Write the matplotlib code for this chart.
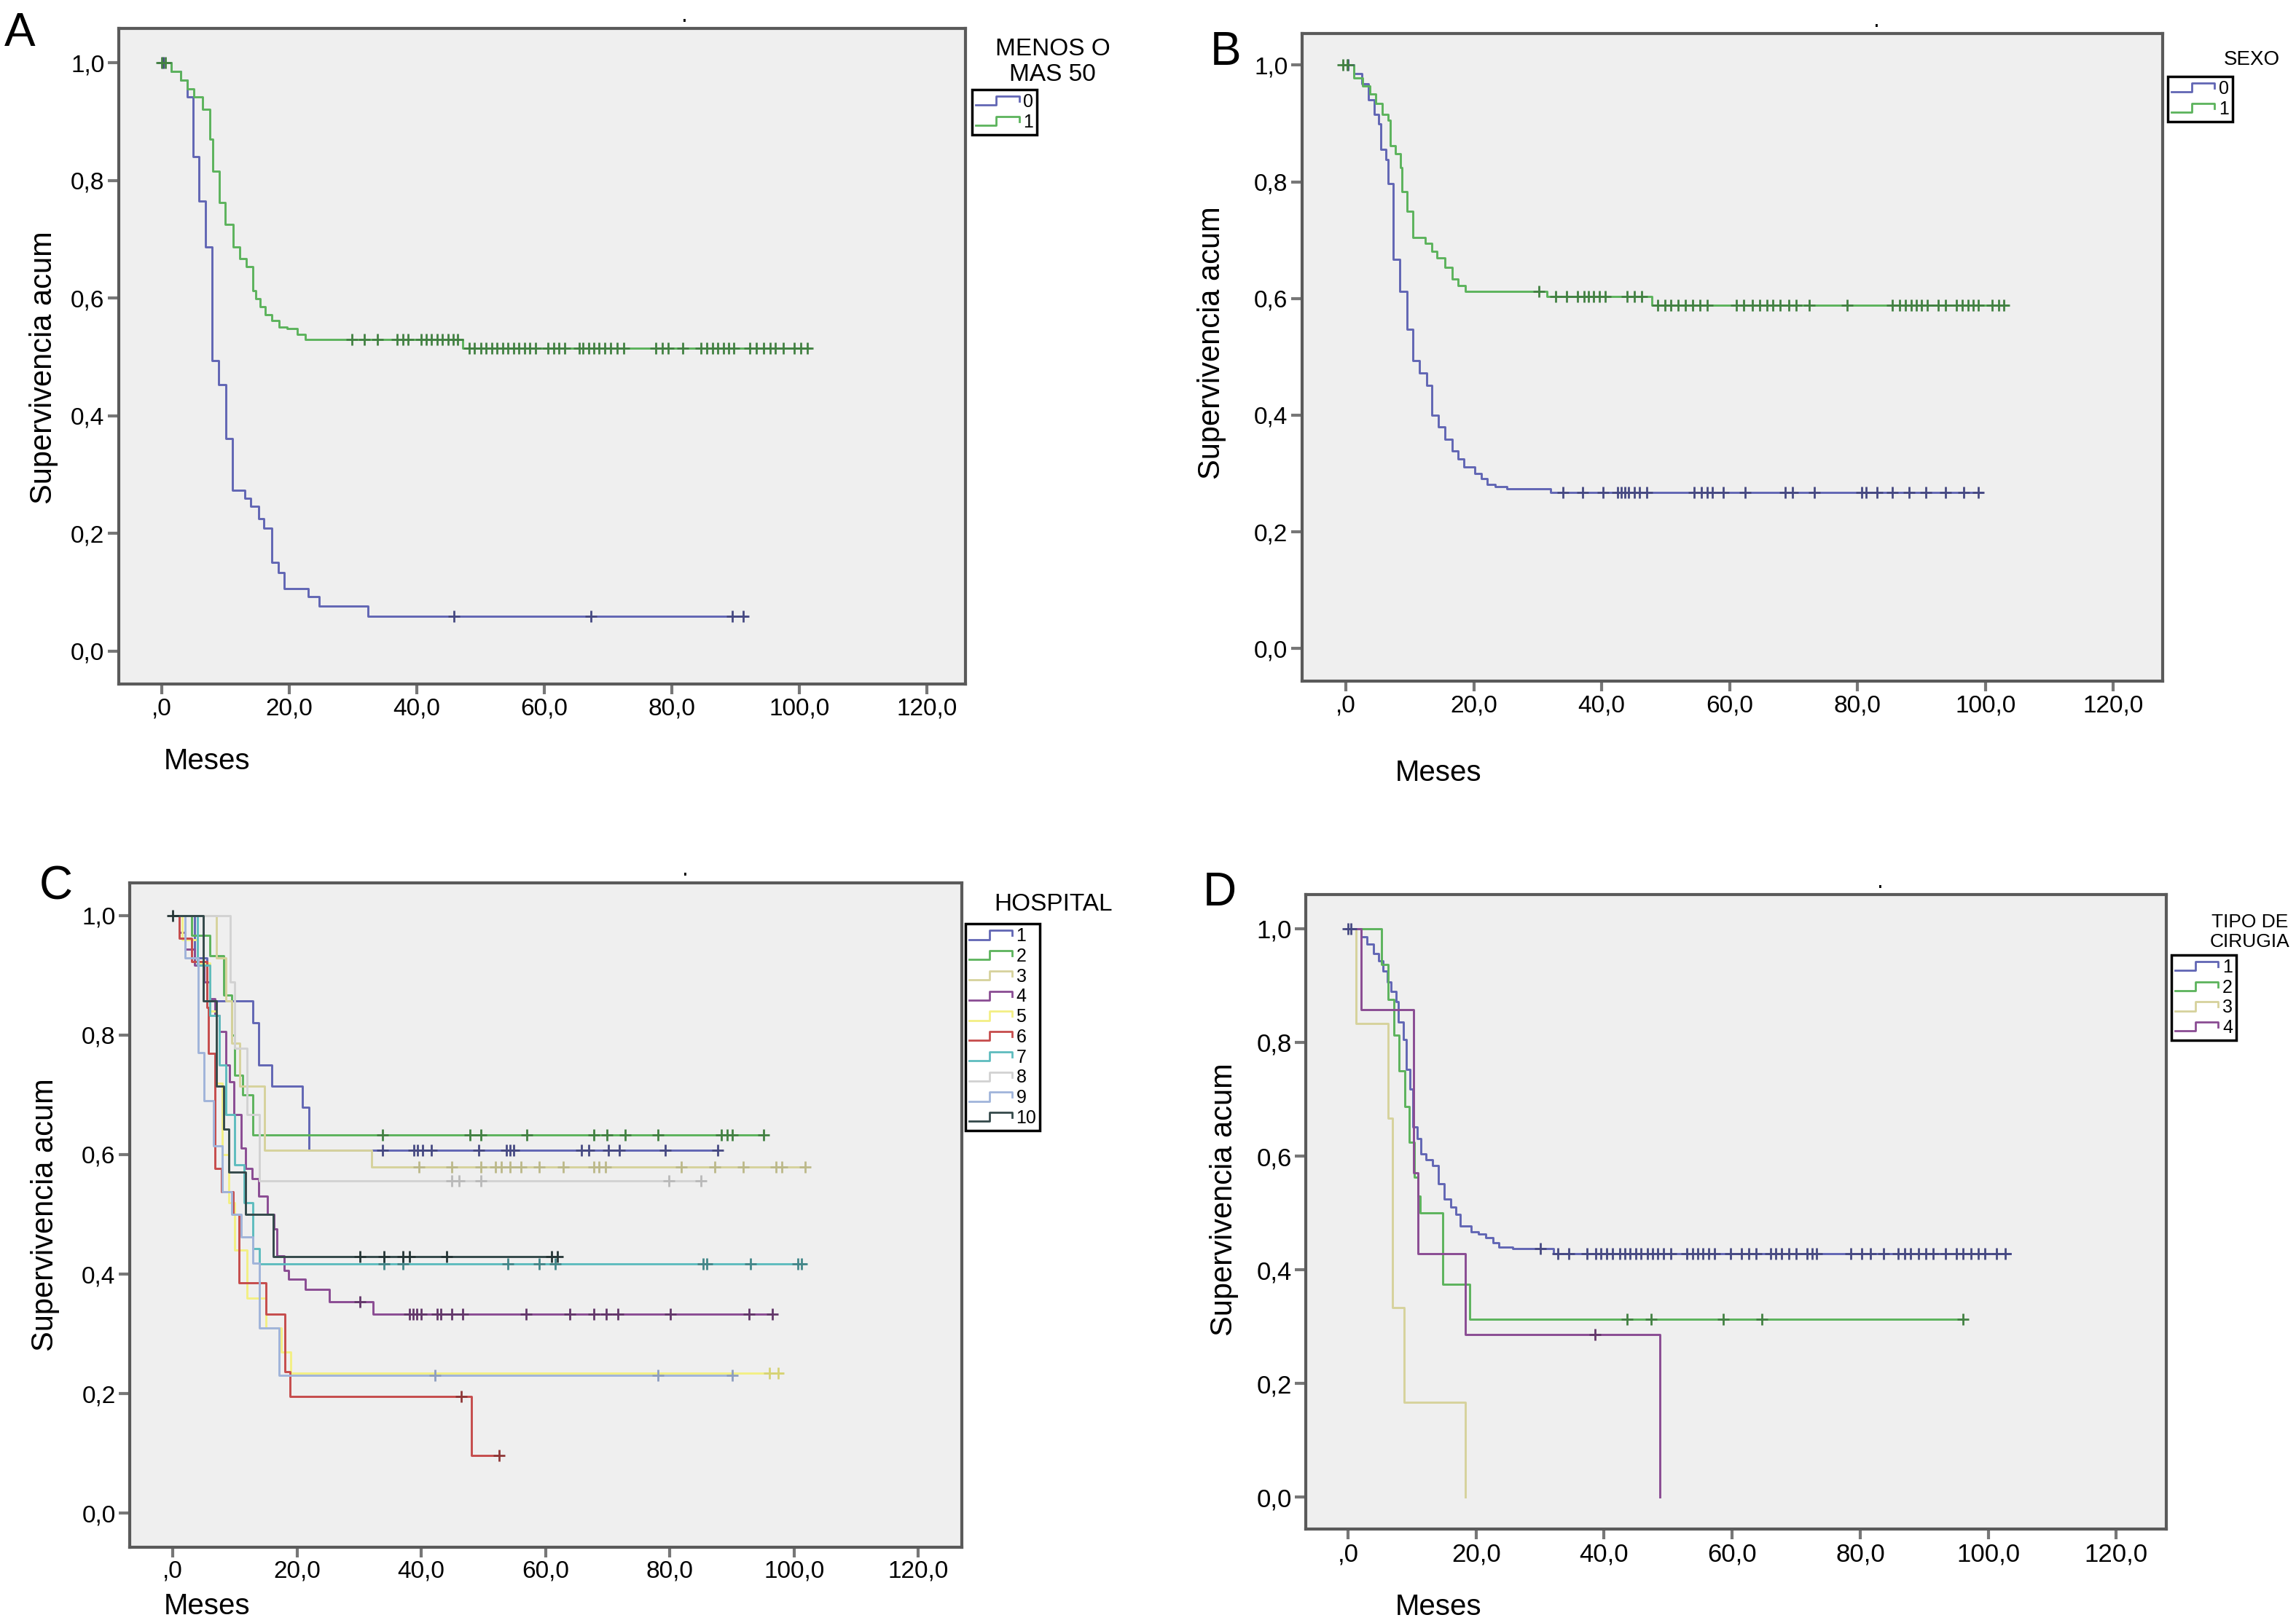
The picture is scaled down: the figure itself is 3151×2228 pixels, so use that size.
import numpy as np
import matplotlib
matplotlib.use("Agg")
import matplotlib.pyplot as plt
import matplotlib.colors as mcolors
from matplotlib.lines import Line2D
from matplotlib.legend_handler import HandlerBase

FONT = ['Liberation Sans', 'DejaVu Sans']

# ---------------- data ----------------
xticks = [0, 20, 40, 60, 80, 100, 120]
xtick_labels = [',0', '20,0', '40,0', '60,0', '80,0', '100,0', '120,0']
yticks = [0.0, 0.2, 0.4, 0.6, 0.8, 1.0]
ytick_labels = ['0,0', '0,2', '0,4', '0,6', '0,8', '1,0']

# A: MENOS O MAS 50
a0_t = [1.5, 3.0, 4.0, 4.9, 5.9, 6.9, 7.9, 8.9, 10.1, 11.1, 13.1, 14.0, 15.2, 16.0,
        17.3, 18.3, 19.2, 23.0, 24.7, 32.4]
a0_s = [0.985, 0.970, 0.942, 0.840, 0.765, 0.687, 0.494, 0.453, 0.361, 0.273, 0.260,
        0.246, 0.225, 0.209, 0.151, 0.134, 0.106, 0.093, 0.077, 0.059]
a0_cens = [0.3, 45.8, 67.4, 89.5, 91.2]
a0_end = 91.8

a1_t = [1.5, 3.0, 4.0, 5.0, 6.4, 7.6, 8.0, 9.0, 10.0, 11.2, 12.3, 13.3, 14.3, 14.8,
        15.4, 16.3, 17.3, 18.4, 19.7, 21.3, 22.5, 47.2]
a1_s = [0.985, 0.970, 0.955, 0.942, 0.921, 0.870, 0.816, 0.762, 0.725, 0.687, 0.667,
        0.653, 0.613, 0.599, 0.585, 0.572, 0.562, 0.551, 0.548, 0.538, 0.530, 0.515]
a1_cens = [0.0, 0.6, 29.8, 31.8, 33.8, 36.9, 37.8, 38.6, 40.7, 41.5, 42.3, 43.2, 44.0,
           44.9, 45.7, 46.4, 48.3, 49.1, 50.1, 50.9, 51.8, 52.6, 53.5, 54.3, 55.2, 56.0,
           56.9, 57.7, 58.6, 60.6, 61.5, 62.3, 63.2, 65.5, 66.1, 67.0, 67.8, 68.6, 69.5,
           70.4, 71.5, 72.5, 77.5, 78.6, 79.5, 81.8, 84.6, 85.5, 86.4, 87.2, 88.1, 88.9,
           89.8, 92.3, 93.3, 94.4, 95.5, 96.3, 97.5, 99.2, 100.3, 101.3]
a1_end = 101.8

# B: SEXO
b0_t = [1.3, 2.5, 3.5, 4.4, 5.1, 5.5, 6.3, 6.6, 7.4, 8.4, 9.6, 10.5, 11.5, 12.6, 13.5,
        14.5, 15.5, 16.6, 17.5, 18.5, 20.2, 21.2, 22.1, 23.3, 25.2, 32.0]
b0_s = [0.985, 0.968, 0.940, 0.916, 0.899, 0.855, 0.838, 0.797, 0.667, 0.612, 0.547,
        0.493, 0.472, 0.451, 0.400, 0.380, 0.359, 0.339, 0.325, 0.311, 0.300, 0.291,
        0.281, 0.277, 0.274, 0.267]
b0_cens = [0.4, 34.0, 37.0, 40.2, 42.5, 43.1, 43.6, 44.2, 45.1, 45.9, 47.1, 54.5, 55.6,
           56.5, 57.3, 59.0, 62.4, 68.7, 69.8, 73.3, 80.7, 81.3, 83.0, 85.5, 88.1, 90.7,
           93.8, 96.6, 98.9]
b0_end = 99.5

b1_t = [1.3, 2.6, 3.8, 4.7, 5.7, 6.6, 7.0, 7.7, 8.5, 8.8, 9.6, 10.5, 12.4, 13.4, 14.3,
        15.5, 16.6, 17.5, 18.7, 31.5, 47.8]
b1_s = [0.978, 0.964, 0.951, 0.934, 0.916, 0.906, 0.862, 0.848, 0.824, 0.783, 0.749,
        0.705, 0.695, 0.681, 0.670, 0.653, 0.633, 0.622, 0.612, 0.603, 0.589]
b1_cens = [-0.4, 0.2, 30.2, 32.8, 34.5, 36.2, 37.2, 37.9, 38.7, 39.7, 40.6, 44.0, 45.1,
           46.3, 48.8, 49.9, 50.8, 52.0, 53.1, 54.2, 55.4, 56.5, 61.1, 62.2, 63.6, 64.7,
           65.9, 66.8, 67.9, 69.3, 70.4, 72.5, 78.4, 85.5, 86.6, 87.5, 88.4, 89.2, 90.0,
           90.9, 92.6, 93.8, 95.5, 96.4, 97.3, 98.1, 98.9, 101.0, 102.1, 102.9]
b1_end = 103.5

# C: HOSPITAL 1..10
h1_t = [3.5, 5.5, 12.9, 13.8, 16.0, 20.9, 21.9]
h1_s = [0.929, 0.857, 0.821, 0.750, 0.714, 0.679, 0.607]
h1_cens = [33.8, 38.8, 39.4, 40.2, 41.6, 49.3, 53.7, 54.3, 54.9, 65.8, 67.0, 70.1,
           71.9, 79.3, 87.7]
h1_end = 87.7

h2_t = [3.0, 6.0, 8.2, 9.5, 10.0, 11.2, 12.9]
h2_s = [0.967, 0.933, 0.867, 0.800, 0.733, 0.700, 0.633]
h2_cens = [33.8, 47.9, 49.6, 57.0, 67.8, 69.9, 72.8, 78.1, 88.3, 89.2, 90.1, 95.1]
h2_end = 95.1

h3_t = [7.0, 8.5, 9.5, 10.8, 14.8, 32.0]
h3_s = [0.929, 0.857, 0.786, 0.714, 0.607, 0.579]
h3_cens = [39.6, 44.9, 49.6, 52.0, 52.9, 54.3, 56.1, 59.0, 62.9, 67.8, 68.6, 69.6,
           81.9, 87.2, 91.8, 97.1, 98.0, 101.8]
h3_end = 101.8

h4_t = [1.0, 2.0, 3.5, 5.0, 6.0, 6.8, 7.5, 8.5, 9.2, 9.8, 11.0, 11.7, 12.8, 13.8,
        15.2, 16.3, 16.8, 17.9, 18.7, 21.3, 25.2, 32.3]
h4_s = [0.972, 0.944, 0.917, 0.889, 0.861, 0.833, 0.806, 0.750, 0.722, 0.667, 0.611,
        0.577, 0.560, 0.530, 0.500, 0.476, 0.430, 0.406, 0.392, 0.374, 0.354, 0.333]
h4_cens = [30.1, 38.1, 38.7, 39.3, 40.0, 42.6, 43.2, 44.9, 46.7, 56.9, 63.9, 67.8,
           69.8, 71.7, 80.1, 92.8, 96.5]
h4_end = 96.5

h5_t = [1.5, 4.0, 6.0, 7.0, 8.0, 9.0, 10.0, 12.0, 15.0, 17.5, 19.0]
h5_s = [0.960, 0.920, 0.840, 0.720, 0.600, 0.520, 0.440, 0.360, 0.310, 0.270, 0.235]
h5_cens = [96.0, 97.5]
h5_end = 98.0

h6_t = [1.0, 3.0, 5.5, 5.8, 6.8, 7.8, 9.7, 10.7, 15.0, 18.1, 18.9, 48.1]
h6_s = [0.962, 0.923, 0.846, 0.769, 0.577, 0.538, 0.500, 0.385, 0.333, 0.237, 0.195, 0.097]
h6_cens = [46.4, 52.5]
h6_end = 52.5

h7_t = [4.0, 6.0, 7.5, 8.5, 10.0, 11.5, 12.9, 14.0]
h7_s = [0.917, 0.833, 0.750, 0.667, 0.583, 0.520, 0.443, 0.417]
h7_cens = [34.0, 37.1, 54.0, 59.0, 61.6, 85.4, 86.0, 93.0, 100.6, 101.2]
h7_end = 101.8

h8_t = [9.3, 10.0, 12.0, 14.0]
h8_s = [0.889, 0.778, 0.667, 0.556]
h8_cens = [44.9, 46.1, 49.6, 79.9, 85.0]
h8_end = 85.0

h9_t = [2.0, 4.1, 5.0, 6.6, 8.0, 9.5, 11.0, 12.9, 14.0, 17.1]
h9_s = [0.929, 0.770, 0.690, 0.615, 0.538, 0.500, 0.462, 0.418, 0.310, 0.231]
h9_cens = [42.2, 78.1, 90.1]
h9_end = 90.1

h10_t = [4.9, 7.0, 8.2, 9.0, 11.7, 16.2]
h10_s = [0.857, 0.714, 0.643, 0.571, 0.500, 0.429]
h10_cens = [0.0, 30.1, 34.0, 37.1, 38.1, 44.1, 61.0, 61.9]
h10_end = 61.9

# D: TIPO DE CIRUGIA 1..4
d1_t = [2.1, 3.0, 4.0, 4.8, 5.5, 6.1, 6.7, 7.5, 7.8, 8.6, 9.1, 9.7, 10.1, 10.8, 11.4,
        12.2, 13.2, 14.1, 15.0, 16.0, 16.9, 17.5, 19.2, 20.4, 21.5, 22.7, 23.6, 25.7, 32.1]
d1_s = [0.986, 0.973, 0.956, 0.943, 0.926, 0.906, 0.890, 0.872, 0.836, 0.805, 0.752,
        0.718, 0.651, 0.631, 0.604, 0.594, 0.584, 0.551, 0.524, 0.510, 0.497, 0.477,
        0.467, 0.463, 0.456, 0.447, 0.440, 0.437, 0.428]
d1_cens = [0.0, 0.5, 30.1, 32.8, 34.5, 37.3, 38.7, 39.5, 40.4, 41.3, 42.4, 43.2, 44.0,
           44.9, 45.8, 46.8, 47.6, 48.4, 49.3, 50.4, 52.9, 53.8, 54.6, 55.4, 56.3, 57.2,
           59.7, 61.4, 62.6, 63.7, 66.0, 66.8, 67.7, 68.8, 70.0, 71.7, 72.5, 73.2, 78.5,
           80.2, 81.6, 83.6, 85.9, 87.0, 87.9, 89.1, 90.2, 91.4, 93.3, 95.0, 96.1, 97.3,
           98.4, 99.5, 101.3, 102.7]
d1_end = 103.5

d2_t = [5.2, 6.3, 7.2, 8.0, 8.9, 9.6, 10.4, 10.9, 11.3, 14.8, 19.0]
d2_s = [0.9375, 0.875, 0.8125, 0.75, 0.6875, 0.625, 0.5625, 0.53, 0.5, 0.375, 0.3125]
d2_cens = [43.6, 47.4, 58.6, 64.6, 96.1]
d2_end = 96.1

d3_t = [1.3, 6.3, 6.9, 8.8, 18.3]
d3_s = [0.833, 0.667, 0.333, 0.167, 0.0]
d3_cens = []
d3_end = 18.3

d4_t = [2.1, 10.2, 10.9, 18.3, 48.7]
d4_s = [0.857, 0.571, 0.429, 0.286, 0.0]
d4_cens = [38.6]
d4_end = 48.7

# SPSS-like palette, washed out as in the scan
blue, green, beige, purple = '#6166b4', '#5cb35c', '#d6d29c', '#8a4c93'
yellow, red, cyan, grey = '#f3ef84', '#c64c4c', '#5ebcbe', '#d2d2d2'
lblue, dark = '#a0b4da', '#34494a'


def darker(c):
    rgb = np.array(mcolors.to_rgb(c))
    # pale lines keep pale censor marks, strong ones get darker marks
    f = 0.88 if rgb.mean() > 0.7 else 0.72
    return tuple(rgb * f)


class StepHandler(HandlerBase):
    def create_artists(self, legend, orig_handle, xdescent, ydescent, width, height,
                       fontsize, trans):
        x0, y0 = -xdescent, -ydescent
        xs = [x0, x0 + 0.45 * width, x0 + 0.45 * width, x0 + 0.95 * width, x0 + 0.95 * width]
        ys = [y0 + 0.15 * height, y0 + 0.15 * height, y0 + 0.85 * height,
              y0 + 0.85 * height, y0 + 0.45 * height]
        return [Line2D(xs, ys, color=orig_handle.get_color(), lw=2.0, transform=trans)]


def km(ax, t, s, cens, end, color):
    x = np.r_[0.0, t, end]
    y = np.r_[1.0, s, s[-1] if len(s) else 1.0]
    ax.step(x, y, where='post', color=color, lw=2.1, zorder=3)
    if len(cens):
        cens = np.asarray(cens)
        idx = np.searchsorted(np.asarray(t), cens, side='right')
        yc = np.r_[1.0, s][idx]
        ax.plot(cens, yc, ls='none', marker='+', ms=11, mew=2.0, color=darker(color),
                zorder=4)


def setup(ax, xlim, ylim, lab_xy, meses_xy, tick_fs=24):
    ax.set_facecolor('#efefef')
    ax.set_xlim(*xlim)
    ax.set_ylim(*ylim)
    ax.set_xticks(xticks)
    ax.set_xticklabels(xtick_labels, family=FONT, fontsize=tick_fs)
    ax.set_yticks(yticks)
    ax.set_yticklabels(ytick_labels, family=FONT, fontsize=tick_fs)
    ax.tick_params(axis='y', length=11, width=3, color='#777777', pad=3)
    ax.tick_params(axis='x', length=10, width=3, color='#777777', pad=3)
    for sp in ax.spines.values():
        sp.set_color('#5a5a5a')
        sp.set_linewidth(3)
    ax.set_ylabel('Supervivencia acum', family=FONT, fontsize=30)
    ax.yaxis.set_label_coords(*lab_xy)
    ax.text(meses_xy[0], meses_xy[1], 'Meses', transform=ax.transAxes, family=FONT,
            fontsize=29, ha='left', va='center')
    ax.text(0.668, 1.01, '.', transform=ax.transAxes, fontsize=20, ha='center')


def legend(ax, labels, colors, anchor, title, title_xy, title_fs, fs=18):
    handles = [Line2D([0], [0], color=c) for c in colors]
    lg = ax.legend(handles, labels, handler_map={Line2D: StepHandler()},
                   loc='upper left', bbox_to_anchor=anchor, borderaxespad=0,
                   frameon=True, fancybox=False, edgecolor='black', facecolor='white',
                   framealpha=1, borderpad=0.2, labelspacing=0.15, handlelength=2.5,
                   handletextpad=0.1, prop={'family': FONT, 'size': fs})
    lg.get_frame().set_linewidth(2.5)
    ax.text(title_xy[0], title_xy[1], title, transform=ax.transAxes, family=FONT,
            fontsize=title_fs, ha='center', va='bottom', linespacing=1.15)


fig = plt.figure(figsize=(31.51, 22.28), dpi=100)

# ---- A ----
axA = fig.add_axes([0.0517, 0.5785, 0.3688, 0.4039])
setup(axA, (-6.74, 126.1), (-0.056, 1.058), (-0.071, 0.483), (0.053, -0.118))
km(axA, a0_t, a0_s, a0_cens, a0_end, blue)
km(axA, a1_t, a1_s, a1_cens, a1_end, green)
legend(axA, ['0', '1'], [blue, green], (1.008, 0.907), 'MENOS O\nMAS 50',
       (1.103, 0.913), 24)

# ---- B ----
axB = fig.add_axes([0.5671, 0.5803, 0.3748, 0.3990])
setup(axB, (-6.84, 127.7), (-0.056, 1.054), (-0.088, 0.523), (0.108, -0.142))
km(axB, b0_t, b0_s, b0_cens, b0_end, blue)
km(axB, b1_t, b1_s, b1_cens, b1_end, green)
legend(axB, ['0', '1'], [blue, green], (1.006, 0.934), 'SEXO', (1.104, 0.945), 20)

# ---- C ----
axC = fig.add_axes([0.0565, 0.0468, 0.3624, 0.4094])
setup(axC, (-6.92, 127.0), (-0.0565, 1.055), (-0.084, 0.5), (0.041, -0.089))
hosp = [(h1_t, h1_s, h1_cens, h1_end, blue), (h2_t, h2_s, h2_cens, h2_end, green),
        (h3_t, h3_s, h3_cens, h3_end, beige), (h4_t, h4_s, h4_cens, h4_end, purple),
        (h5_t, h5_s, h5_cens, h5_end, yellow), (h6_t, h6_s, h6_cens, h6_end, red),
        (h7_t, h7_s, h7_cens, h7_end, cyan), (h8_t, h8_s, h8_cens, h8_end, grey),
        (h9_t, h9_s, h9_cens, h9_end, lblue), (h10_t, h10_s, h10_cens, h10_end, dark)]
for t, s, c, e, col in hosp:
    km(axC, t, s, c, e, col)
legend(axC, [str(i) for i in range(1, 11)], [h[4] for h in hosp], (1.004, 0.938),
       'HOSPITAL', (1.11, 0.95), 24)

# ---- D ----
axD = fig.add_axes([0.5687, 0.0579, 0.3748, 0.3909])
setup(axD, (-6.6, 127.8), (-0.056, 1.060), (-0.078, 0.519), (0.104, -0.123), tick_fs=25)
km(axD, d1_t, d1_s, d1_cens, d1_end, blue)
km(axD, d2_t, d2_s, d2_cens, d2_end, green)
km(axD, d3_t, d3_s, d3_cens, d3_end, beige)
km(axD, d4_t, d4_s, d4_cens, d4_end, purple)
legend(axD, ['1', '2', '3', '4'], [blue, green, beige, purple], (1.006, 0.905),
       'TIPO DE\nCIRUGIA', (1.097, 0.912), 19)

# panel letters
for lab, x, y in [('A', 0.002, 0.993), ('B', 0.527, 0.981), ('C', 0.017, 0.467),
                  ('D', 0.524, 0.463)]:
    fig.text(x, y, lab, family=FONT, fontsize=46, ha='left', va='top')

fig.savefig('out.png', dpi=100, facecolor='white')
